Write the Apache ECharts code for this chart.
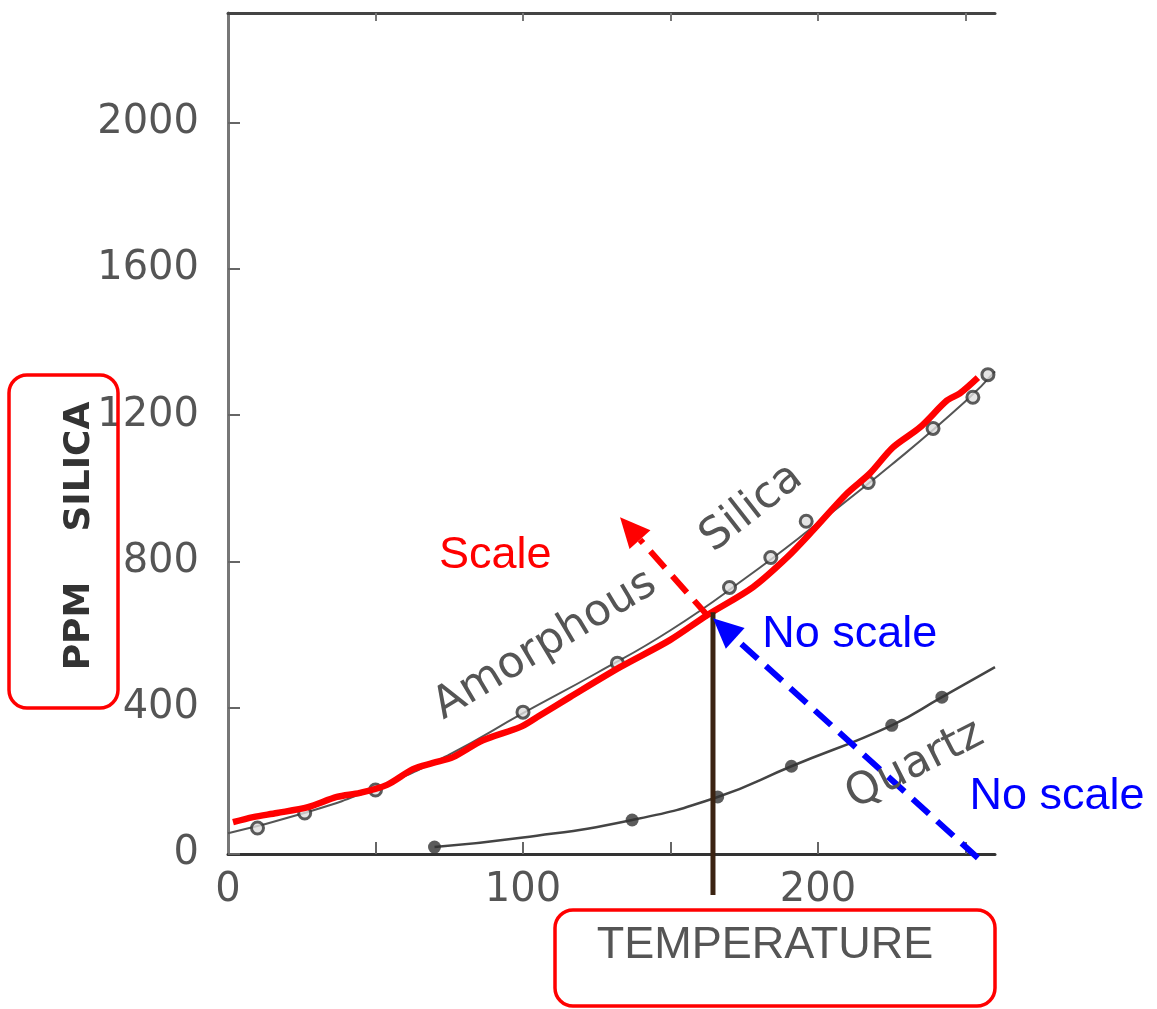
<!DOCTYPE html>
<html><head><meta charset="utf-8">
<script src="https://cdn.jsdelivr.net/npm/echarts@6/dist/echarts.min.js"></script>
<style>html,body{margin:0;padding:0;background:#fff}#c{width:1157px;height:1009px}</style>
</head><body><div id="c"></div>
<script>
// ---- data ----
const xTickLabels = [0, 100, 200];
const xMinorTicks = [50, 100, 150, 200, 250];
const yTickLabels = [0, 400, 800, 1200, 1600, 2000];
const amorphousPoints = [[10,71],[26,112],[50,175],[100,388],[132,522],[170,729],[184,811],[196,910],[217,1016],[239,1164],[252.5,1249],[257.6,1311]];
const amorphousCurve = [[0,57],[25,110],[50,180],[75,272],[100,385],[125,495],[150,612],[175,752],[200,905],[225,1065],[250,1238],[260,1320]];
const quartzPoints = [[70,19],[137,93],[166,156],[191,240],[225,352],[242,429]];
const quartzCurve = [[70,19],[100,45],[137,93],[166,156],[191,240],[225,352],[242,429],[260,511]];
const scaleLine = [[1.7,87],[8.5,101],[16.6,112],[27.1,128],[36.9,156],[44.7,167],[53.9,189],[62.7,232],[69.5,249],[76.3,265],[86.4,311],[99,347],[104.7,374],[115.9,429],[132.9,511],[149.8,585],[162.4,653],[178,730],[189.5,811],[198.3,885],[209.8,986],[217.6,1041],[225.4,1112],[234.6,1167],[243.7,1240],[248.1,1260],[254.2,1303]];
const redArrow = [[163,648],[132.9,921]];
const blueArrow = [[254.2,-11],[164.4,645]];
const markerLine = [[164.4,661],[164.4,-112]];
const textLabels = [
  {text:'Amorphous', at:[107.5,571], rot:31, color:'#555', font:'44px "DejaVu Sans"'},
  {text:'Silica', at:[177.6,946], rot:38, color:'#555', font:'44px "DejaVu Sans"'},
  {text:'Quartz', at:[232.9,243], rot:27, color:'#555', font:'44px "DejaVu Sans"'},
  {text:'Scale', at:[90.6,817], rot:0, color:'#ff0000', font:'45px "Liberation Sans"'},
  {text:'No scale', at:[210.8,601], rot:0, color:'#0000ff', font:'45px "Liberation Sans"'},
  {text:'No scale', at:[281,156], rot:0, color:'#0000ff', font:'45px "Liberation Sans"'}
];
const yName = 'PPM    SILICA';
const xName = 'TEMPERATURE';

const chart = echarts.init(document.getElementById('c'));
const labelStyle = {fontSize:40, fontFamily:'DejaVu Sans', color:'#555', formatter: v => String(v)};
chart.setOption({
  animation:false,
  backgroundColor:'#fff',
  grid:{left:228, right:162, top:13, bottom:155},
  xAxis:[{
    type:'value', min:0, max:260, position:'bottom',
    axisLine:{show:true, onZero:false, lineStyle:{color:'#333', width:3}},
    axisTick:{show:true, inside:true, length:12, customValues:xMinorTicks, lineStyle:{color:'#666', width:2}},
    axisLabel:Object.assign({customValues:xTickLabels, margin:17}, labelStyle),
    splitLine:{show:false}
  },{
    type:'value', min:0, max:260, position:'top',
    axisLine:{show:true, onZero:false, lineStyle:{color:'#444', width:3}},
    axisTick:{show:true, inside:true, length:8, customValues:xMinorTicks, lineStyle:{color:'#777', width:2}},
    axisLabel:{show:false}, splitLine:{show:false}
  }],
  yAxis:{
    type:'value', min:0, max:2300,
    axisLine:{show:true, onZero:false, lineStyle:{color:'#777', width:3}},
    axisTick:{show:true, inside:true, length:12, customValues:yTickLabels, lineStyle:{color:'#666', width:2}},
    axisLabel:Object.assign({customValues:yTickLabels, margin:29}, labelStyle),
    splitLine:{show:false}
  },
  series:[
    {type:'line', data:amorphousCurve, smooth:true, symbol:'none', lineStyle:{color:'#555', width:2}, z:2},
    {type:'scatter', data:amorphousPoints, symbol:'circle', symbolSize:12, itemStyle:{color:'#ddd', borderColor:'#333', borderWidth:3}, z:3},
    {type:'line', data:quartzCurve, smooth:true, symbol:'none', lineStyle:{color:'#444', width:2.5}, z:2},
    {type:'scatter', data:quartzPoints, symbol:'circle', symbolSize:13, itemStyle:{color:'#333'}, z:3},
    {type:'line', data:scaleLine, smooth:0.3, symbol:'none', lineStyle:{color:'#ff0000', width:6.5}, z:5}
  ]
});

function P(pt){ return chart.convertToPixel({gridIndex:0}, pt); }
function arrow(from, to, color){
  const a = P(from), b = P(to);
  const dx = b[0]-a[0], dy = b[1]-a[1], len = Math.hypot(dx,dy);
  const ux = dx/len, uy = dy/len, nx = -uy, ny = ux;
  const L = 30, W = 28;
  const bx = b[0]-ux*L, by = b[1]-uy*L;
  return [
    {type:'line', z:100, shape:{x1:a[0], y1:a[1], x2:bx, y2:by},
     style:{stroke:color, lineWidth:6, lineDash:[22,11]}},
    {type:'polygon', z:100, shape:{points:[[b[0],b[1]],[bx+nx*W/2,by+ny*W/2],[bx-nx*W/2,by-ny*W/2]]},
     style:{fill:color}}
  ];
}
function txt(x, y, text, font, color, rot){
  return {type:'text', z:110, x:x, y:y, rotation:rot*Math.PI/180,
    style:{text:text, font:font, fill:color, align:'center', verticalAlign:'middle',
           textAlign:'center', textVerticalAlign:'middle'}};
}
const g = [];
const m1 = P(markerLine[0]), m2 = P(markerLine[1]);
g.push({type:'line', z:99, shape:{x1:m1[0], y1:m1[1], x2:m2[0], y2:m2[1]}, style:{stroke:'#3b2312', lineWidth:5}});
arrow(redArrow[0], redArrow[1], '#ff0000').forEach(e=>g.push(e));
arrow(blueArrow[0], blueArrow[1], '#0000ff').forEach(e=>g.push(e));
textLabels.forEach(t=>{ const p = P(t.at); g.push(txt(p[0], p[1], t.text, t.font, t.color, t.rot)); });
g.push(txt(80, 536, yName, 'bold 36px "DejaVu Sans"', '#333', 90));
g.push(txt(765, 946, xName, '45px "Liberation Sans"', '#555', 0));
g.push({type:'rect', z:120, shape:{x:9, y:375, width:109, height:333, r:18}, style:{fill:'none', stroke:'#ff0000', lineWidth:3.5}});
g.push({type:'rect', z:120, shape:{x:555, y:910, width:440, height:96, r:18}, style:{fill:'none', stroke:'#ff0000', lineWidth:3.5}});
chart.setOption({graphic:g});
</script></body></html>
